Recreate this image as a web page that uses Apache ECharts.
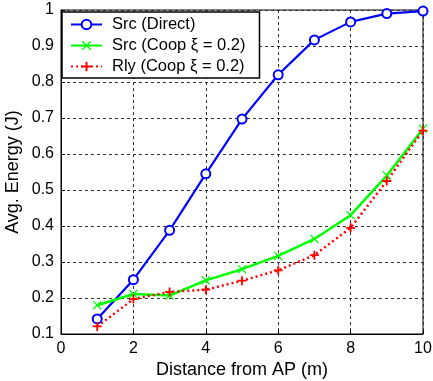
<!DOCTYPE html>
<html>
<head>
<meta charset="utf-8">
<script src="https://cdn.jsdelivr.net/npm/echarts@6/dist/echarts.min.js"></script>
<style>
  html, body { margin: 0; padding: 0; background: #fff; }
  #chart { width: 433px; height: 381px; }
</style>
</head>
<body>
<div id="chart"></div>
<script>
// distance from AP (m)
const distance = [1, 2, 3, 4, 5, 6, 7, 8, 9, 10]
// avg energy (J)
const srcDirect = [0.142, 0.251, 0.388, 0.545, 0.697, 0.82, 0.917, 0.967, 0.99, 0.997]
const srcCoop = [0.18, 0.211, 0.207, 0.249, 0.28, 0.317, 0.364, 0.43, 0.54, 0.67]
const rlyCoop = [0.121, 0.197, 0.217, 0.223, 0.248, 0.277, 0.319, 0.395, 0.525, 0.665]
const seriesNames = ['Src (Direct)', 'Src (Coop ξ = 0.2)', 'Rly (Coop ξ = 0.2)']

const plusPath = 'path://M4,0H6V4H10V6H6V10H4V6H0V4H4Z'
const crossPath = 'path://M0,1L1,0L5,4L9,0L10,1L6,5L10,9L9,10L5,6L1,10L0,9L4,5Z'

const pairs = arr => distance.map((d, i) => [d, arr[i]])

const chart = echarts.init(document.getElementById('chart'))
chart.setOption({
  animation: false,
  textStyle: { fontFamily: 'Liberation Sans, Arial, sans-serif' },
  grid: {
    left: 61, right: 10, top: 10, bottom: 47,
    outerBoundsMode: 'none', containLabel: false,
    show: true, borderColor: '#000', borderWidth: 1
  },
  legend: {
    orient: 'vertical',
    left: 62,
    top: 12,
    padding: [4, 14, 3, 8],
    itemGap: 4,
    itemWidth: 31,
    itemHeight: 12,
    backgroundColor: '#fff',
    borderColor: '#000',
    borderWidth: 1.5,
    borderRadius: 0,
    textStyle: { fontSize: 16.5, lineHeight: 16, color: '#000', padding: [0, 0, 0, 5] },
    data: seriesNames
  },
  xAxis: {
    type: 'value',
    min: 0, max: 10, interval: 2,
    name: 'Distance from AP (m)',
    nameLocation: 'middle',
    nameGap: 27,
    nameMoveOverlap: false,
    nameTextStyle: { fontSize: 18, color: '#000' },
    axisLine: { lineStyle: { color: '#000' } },
    axisTick: { inside: true, length: 4, lineStyle: { color: '#000' } },
    axisLabel: { fontSize: 16, color: '#000', margin: 7 },
    splitLine: { lineStyle: { color: '#333', type: [3, 3] } }
  },
  yAxis: {
    type: 'value',
    min: 0.1, max: 1, interval: 0.1,
    name: 'Avg. Energy (J)',
    nameLocation: 'middle',
    nameGap: 39,
    nameMoveOverlap: false,
    nameTextStyle: { fontSize: 18, color: '#000' },
    axisLine: { show: true, lineStyle: { color: '#000' } },
    axisTick: { show: true, inside: true, length: 4, lineStyle: { color: '#000' } },
    axisLabel: { fontSize: 16, color: '#000', margin: 7, formatter: v => String(+v.toFixed(1)) },
    splitLine: { lineStyle: { color: '#333', type: [3, 3] } }
  },
  series: [
    {
      name: seriesNames[0], type: 'line', data: pairs(srcDirect),
      symbol: 'emptyCircle', symbolSize: 9,
      lineStyle: { color: '#0000ff', width: 2.2 },
      itemStyle: { color: '#0000ff', borderWidth: 2 }
    },
    {
      name: seriesNames[1], type: 'line', data: pairs(srcCoop),
      symbol: crossPath, symbolSize: 9,
      lineStyle: { color: '#00ff00', width: 2.5 },
      itemStyle: { color: '#00ff00' }
    },
    {
      name: seriesNames[2], type: 'line', data: pairs(rlyCoop),
      symbol: plusPath, symbolSize: 9,
      lineStyle: { color: '#ff0000', width: 2.5, type: [2, 3] },
      itemStyle: { color: '#ff0000' }
    }
  ]
})
</script>
</body>
</html>
